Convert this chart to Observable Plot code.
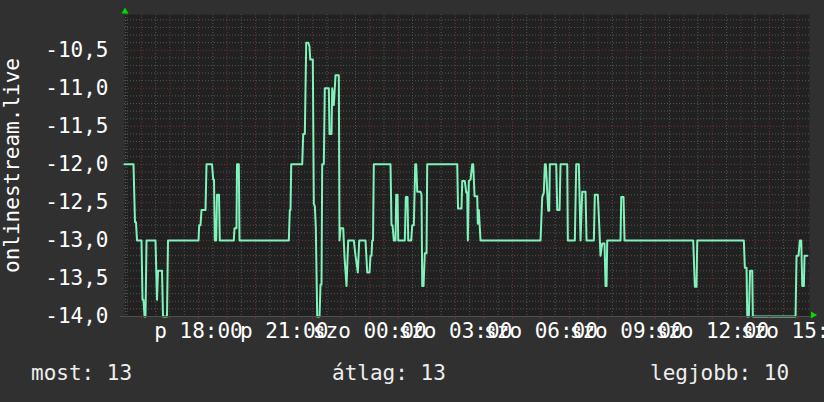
<!DOCTYPE html>
<html>
<head>
<meta charset="utf-8">
<script src="https://cdn.jsdelivr.net/npm/d3@7"></script>
<script src="https://cdn.jsdelivr.net/npm/@observablehq/plot@0.6"></script>
<style>
  html, body { margin: 0; padding: 0; background: #303030; }
  #wrap { width: 824px; height: 402px; position: relative; overflow: hidden; background: #303030; }
  #legend { position: relative; width: 824px; height: 47px; font-family: "DejaVu Sans Mono", monospace; font-size: 21px; color: #eeeeee; }
  #legend span { position: absolute; top: 8px; line-height: 21px; white-space: pre; }
</style>
</head>
<body>
<div id="wrap"></div>
<script>
// ---- data (hours since Friday 00:00, value = negative rank) ----
const hours = [
  15.407, 15.722, 15.775, 15.810, 15.845, 16.003, 16.038, 16.073, 16.108, 16.143,
  16.178, 16.493, 16.546, 16.581, 16.721, 16.756, 16.896, 16.931, 18.000, 18.024,
  18.070, 18.105, 18.245, 18.280, 18.473, 18.515, 18.543, 18.571, 18.620, 18.648,
  18.718, 18.746, 19.237, 19.261, 19.331, 19.349, 19.412, 19.437, 21.164, 21.199,
  21.224, 21.248, 21.633, 21.669, 21.725, 21.774, 21.844, 21.889, 21.914, 22.005,
  22.040, 22.075, 22.110, 22.159, 22.240, 22.275, 22.310, 22.334, 22.390, 22.425,
  22.566, 22.590, 22.660, 22.685, 22.741, 22.800, 22.916, 22.940, 22.975, 23.070,
  23.116, 23.186, 23.245, 23.441, 23.501, 23.582, 23.631, 23.851, 23.911, 23.992,
  24.027, 24.062, 24.086, 24.114, 24.142, 24.727, 24.762, 24.797, 24.843, 24.903,
  24.927, 24.973, 24.997, 25.228, 25.264, 25.323, 25.348, 25.453, 25.488, 25.544,
  25.593, 25.628, 25.663, 25.779, 25.814, 25.838, 25.884, 25.929, 25.989, 26.013,
  27.065, 27.093, 27.215, 27.240, 27.331, 27.380, 27.415, 27.436, 27.471, 27.531,
  27.590, 27.625, 27.671, 27.765, 27.786, 27.821, 27.881, 29.983, 30.043, 30.099,
  30.134, 30.169, 30.253, 30.288, 30.309, 30.533, 30.568, 30.649, 30.684, 30.919,
  30.940, 31.185, 31.234, 31.325, 31.385, 31.444, 31.560, 31.595, 31.851, 31.886,
  31.991, 32.040, 32.085, 32.145, 32.226, 32.261, 32.296, 32.320, 32.786, 32.811,
  32.891, 32.926, 35.333, 35.390, 35.449, 35.474, 37.106, 37.141, 37.201, 37.226,
  37.282, 37.324, 37.401, 37.422, 38.918, 38.953, 39.023, 39.069, 39.118, 39.153,
  39.209, 39.233, 39.328
];
const values = [
  -12.0, -12.0, -12.76, -12.76, -13.0, -13.0, -13.78, -13.78, -14.0, -14.0,
  -13.0, -13.0, -13.78, -13.4, -13.4, -14.0, -14.0, -13.0, -13.0, -12.8,
  -12.8, -12.6, -12.6, -12.0, -12.0, -12.2, -12.2, -13.0, -13.0, -12.4,
  -12.4, -13.0, -13.0, -12.84, -12.84, -12.0, -12.0, -13.0, -13.0, -12.6,
  -12.6, -12.0, -12.0, -11.6, -11.6, -10.4, -10.4, -10.45, -10.62, -10.62,
  -12.52, -12.55, -12.83, -14.0, -14.0, -13.58, -13.58, -12.0, -12.0, -11.0,
  -11.0, -11.6, -11.6, -11.0, -11.22, -10.83, -10.83, -13.0, -12.84, -12.84,
  -13.22, -13.6, -13.0, -13.0, -13.2, -13.42, -13.0, -13.0, -13.42, -13.42,
  -13.2, -13.2, -13.0, -13.0, -12.0, -12.0, -12.8, -12.8, -13.0, -13.0,
  -12.4, -12.4, -13.0, -13.0, -12.43, -12.43, -13.0, -13.0, -12.8, -12.8,
  -12.0, -12.0, -12.36, -12.36, -12.4, -13.6, -13.6, -13.17, -13.17, -12.0,
  -12.0, -12.58, -12.58, -12.22, -12.22, -12.37, -12.37, -13.0, -12.22, -12.2,
  -12.0, -12.0, -12.42, -12.42, -12.78, -12.6, -13.0, -13.0, -12.43, -12.37,
  -12.0, -12.0, -12.61, -12.61, -12.0, -12.0, -12.6, -12.6, -12.0, -12.0,
  -13.0, -13.0, -12.0, -12.0, -13.0, -12.36, -12.36, -13.0, -13.0, -12.4,
  -12.4, -12.8, -13.2, -13.04, -13.04, -13.6, -13.6, -13.0, -13.0, -12.43,
  -12.43, -13.0, -13.0, -13.61, -13.61, -13.0, -13.0, -13.36, -13.36, -14.0,
  -14.0, -13.4, -13.4, -14.0, -14.0, -13.2, -13.2, -13.0, -13.0, -13.6,
  -13.6, -13.2, -13.2
];
const xTickHours = [18, 21, 24, 27, 30, 33, 36, 39];
const xTickLabels = ["p 18:00", "p 21:00", "szo 00:00", "szo 03:00", "szo 06:00", "szo 09:00", "szo 12:00", "szo 15:00"];
const yTicks = [-14, -13.5, -13, -12.5, -12, -11.5, -11, -10.5];
const yTitle = "onlinestream.live";
const legendNames = ["most", "átlag", "legjobb"];
const legendValues = [13, 13, 10];

// ---- build ----
const xDomain = [15.407, 39.407];
const yDomain = [-14, -10.03];
const data = hours.map((h, i) => ({h, v: values[i]}));
const labelMap = new Map(xTickHours.map((h, i) => [h, xTickLabels[i]]));
const fmt = d3.formatLocale({decimal: ",", thousands: " ", grouping: [3], currency: ["", ""], minus: "-"}).format(".1f");

const majorX = d3.range(16, 40, 1);
const minorX = d3.range(15.5, 39.5, 1);
const majorY = d3.range(-14, -10.4, 0.5).map(v => +v.toFixed(1));
const minorY = d3.range(-13.9, -10.05, 0.1).map(v => +v.toFixed(1)).filter(v => Math.abs(v * 2 - Math.round(v * 2)) > 1e-6);

const gray = "#555555";
const red = "#703434";
const green = "#00dd00";

const chart = Plot.plot({
  width: 824,
  height: 355,
  marginLeft: 124,
  marginRight: 15,
  marginTop: 14,
  marginBottom: 39,
  x: {domain: xDomain, label: null},
  y: {domain: yDomain, label: null},
  style: {fontFamily: "DejaVu Sans Mono, monospace", fontSize: "21px", background: "transparent", color: "#ffffff", overflow: "visible"},
  marks: [
    Plot.frame({fill: "#212121", stroke: null}),
    Plot.ruleY(minorY, {stroke: gray, strokeDasharray: "1,2", insetRight: -2}),
    Plot.ruleX(minorX, {stroke: gray, strokeDasharray: "1,2"}),
    Plot.ruleX([xDomain[0]], {stroke: gray, strokeDasharray: "1,2", dx: 1}),
    Plot.ruleY(majorY.filter(v => v > -14), {stroke: red, strokeDasharray: "1,2", insetLeft: -2, insetRight: -2}),
    Plot.ruleX(majorX, {stroke: red, strokeDasharray: "1,2"}),
    Plot.line(data, {x: "h", y: "v", stroke: "#80f2ba", strokeWidth: 2}),
    Plot.ruleY([-14], {stroke: "#505050", insetLeft: -4, insetRight: -2}),
    Plot.ruleX(majorX, {stroke: red, insetTop: 302, insetBottom: -3}),
    Plot.axisY(yTicks, {tickSize: 0, tickPadding: 16, tickFormat: fmt, fill: "#ffffff"}),
    Plot.axisX(xTickHours, {tickSize: 0, tickPadding: 7, tickFormat: d => labelMap.get(d), fill: "#ffffff"}),
    Plot.text([yTitle], {frameAnchor: "left", dx: -112.7, rotate: -90, fill: "#ffffff", textAnchor: "middle"}),
    Plot.dot([{x: xDomain[0], y: yDomain[1]}], {x: "x", y: "y", symbol: "triangle", r: 2.6, fill: green, stroke: null, dx: 0.5, dy: -3}),
    Plot.dot([{x: xDomain[1], y: yDomain[0]}], {x: "x", y: "y", symbol: "triangle", r: 2.6, fill: green, stroke: null, rotate: 90, dx: 3.5, dy: -1.5})
  ]
});

const wrap = document.getElementById("wrap");
wrap.appendChild(chart);
const legend = document.createElement("div");
legend.id = "legend";
const lefts = [31, 332, 650];
legendNames.forEach((n, i) => {
  const s = document.createElement("span");
  s.textContent = `${n}: ${legendValues[i]}`;
  s.style.left = lefts[i] + "px";
  legend.appendChild(s);
});
wrap.appendChild(legend);
</script>
</body>
</html>
